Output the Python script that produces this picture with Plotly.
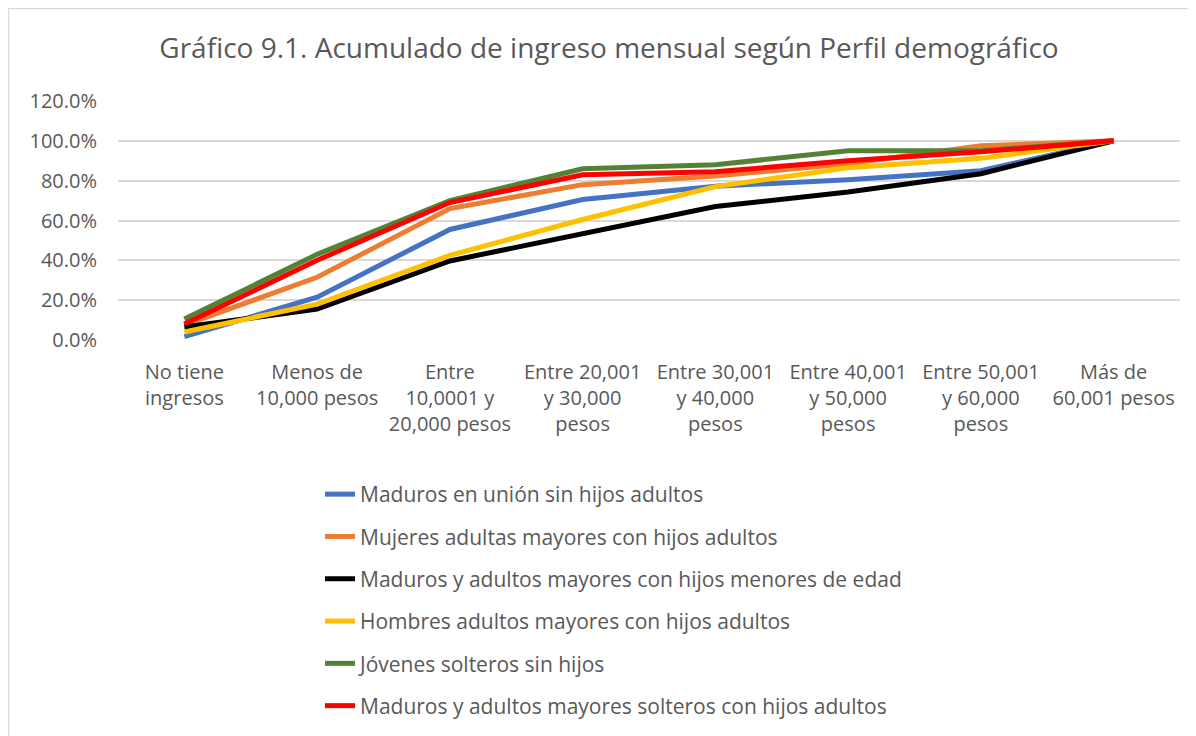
import plotly.graph_objects as go

categories = [
    "No tiene<br>ingresos",
    "Menos de<br>10,000 pesos",
    "Entre<br>10,0001 y<br>20,000 pesos",
    "Entre 20,001<br>y 30,000<br>pesos",
    "Entre 30,001<br>y 40,000<br>pesos",
    "Entre 40,001<br>y 50,000<br>pesos",
    "Entre 50,001<br>y 60,000<br>pesos",
    "Más de<br>60,001 pesos",
]

series_names = [
    "Maduros en unión sin hijos adultos",
    "Mujeres adultas mayores con hijos adultos",
    "Maduros y adultos mayores con hijos menores de edad",
    "Hombres adultos mayores con hijos adultos",
    "Jóvenes solteros sin hijos",
    "Maduros y adultos mayores solteros con hijos adultos",
]

maduros_union = [1.7, 21.5, 55.5, 70.5, 77.2, 80.5, 85.0, 100.0]
mujeres_mayores = [7.5, 31.5, 66.0, 78.0, 82.3, 88.5, 97.5, 100.0]
maduros_menores = [6.5, 15.5, 39.7, 53.5, 67.0, 74.3, 83.5, 100.0]
hombres_mayores = [4.0, 18.0, 42.5, 60.5, 77.0, 86.5, 91.2, 100.0]
jovenes_solteros = [10.5, 43.0, 70.0, 86.0, 88.0, 95.0, 95.0, 100.0]
solteros_hijos = [8.0, 40.0, 69.0, 83.0, 84.5, 90.0, 94.5, 100.0]

series_values = [maduros_union, mujeres_mayores, maduros_menores,
                 hombres_mayores, jovenes_solteros, solteros_hijos]
colors = ["#4472C4", "#ED7D31", "#000000", "#FFC000", "#548235", "#FF0000"]

W, H = 1196, 736
OFF = 8  # page body margin
ML, MR, MT, MB = 118 - OFF, 24, 101 - OFF, 404
FONT = "Open Sans"
TXT = "#595959"

fig = go.Figure()
for i, (name, vals, c) in enumerate(zip(series_names, series_values, colors)):
    fig.add_trace(go.Scatter(
        x=categories, y=[v / 100 for v in vals], name=name, mode="lines",
        line=dict(color=c, width=5), legendgroup=f"g{i}",
    ))

pw = W - ML - MR
ph = H - MT - MB
def px2paper_x(px):  # px in screenshot coords
    return (px - OFF - ML) / pw
def px2paper_y(py):
    return (H - MB - (py - OFF)) / ph

fig.update_layout(
    width=W, height=H,
    margin=dict(l=ML, r=MR, t=MT, b=MB),
    paper_bgcolor="white", plot_bgcolor="white",
    font=dict(family=FONT, color=TXT, size=20),
    title=dict(text="Gráfico 9.1. Acumulado de ingreso mensual según Perfil demográfico",
               x=(609 - OFF) / W, xanchor="center", y=1 - (48 - OFF) / H, yanchor="middle",
               font=dict(size=28, color=TXT, family=FONT)),
    xaxis=dict(type="category", range=[-0.5, 7.5], showgrid=False,
               showline=False, zeroline=False, ticks="",
               tickfont=dict(size=20, color=TXT), ticklabelstandoff=18),
    yaxis=dict(range=[0, 1.2], dtick=0.2, tickformat=".1%",
               showgrid=True, gridcolor="#d9d9d9", gridwidth=1.5,
               zeroline=False, showline=False, ticks="",
               tickfont=dict(size=20, color=TXT), ticklabelstandoff=20),
    showlegend=True,
    legend=dict(x=px2paper_x(320), xanchor="left", y=px2paper_y(474), yanchor="top",
                orientation="v", traceorder="grouped", tracegroupgap=12,
                font=dict(size=21, color=TXT, family=FONT),
                bgcolor="rgba(0,0,0,0)"),
    shapes=[
        dict(type="rect", xref="paper", yref="paper",
             x0=px2paper_x(8.5), x1=px2paper_x(1220),
             y0=px2paper_y(760), y1=px2paper_y(8.5),
             line=dict(color="#d9d9d9", width=1.5), layer="below"),
    ],
)

fig.write_html("out.html")
